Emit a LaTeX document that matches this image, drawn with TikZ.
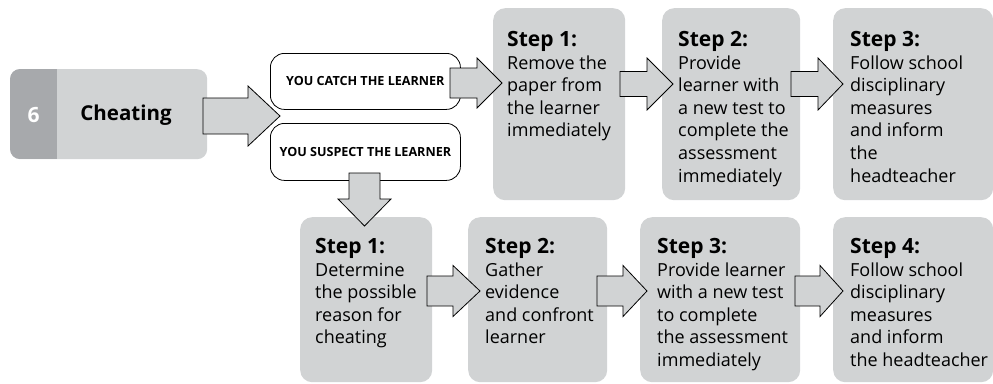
\documentclass[tikz,border=0pt]{standalone}
\usepackage{fontspec}
\setmainfont{Open Sans}
\definecolor{boxgray}{HTML}{D1D3D4}
\definecolor{numgray}{HTML}{A7A9AC}
\newcommand{\rarr}[6]{%
  \draw[blockarrow] (#1,#4-#5) -- (#2,#4-#5) -- (#2,#4-#6) -- (#3,#4) -- (#2,#4+#6) -- (#2,#4+#5) -- (#1,#4+#5) -- cycle;}
\tikzset{
  stepbox/.style={fill=boxgray, rounded corners=12pt, inner sep=0pt, anchor=north west},
  choicebox/.style={draw=black, line width=0.8pt, fill=white, rounded corners=14pt, inner sep=0pt,
     font=\bfseries\fontsize{12.6}{14}\selectfont},
  steptext/.style={anchor=north west, align=left, inner sep=0pt, font=\fontsize{18}{22.6}\selectfont},
  blockarrow/.style={draw=black, line width=0.8pt, fill=boxgray, line join=miter},
}
\newcommand{\steptitle}[1]{{\bfseries\fontsize{21}{24}\selectfont #1}}
\begin{document}
\begin{tikzpicture}[x=1pt,y=-1pt]
\useasboundingbox (0,0) rectangle (993,383);
% Cheating box
\node[stepbox, minimum width=197pt, minimum height=90pt, rounded corners=10pt] (cheat) at (10,69) {};
\begin{scope}
  \clip[rounded corners=10pt] (10,69) rectangle (207,159);
  \fill[numgray] (10,69) rectangle (57,159);
\end{scope}
\node[font=\bfseries\fontsize{21}{24}\selectfont, text=white] (num) at (33.5,115) {6};
\node[font=\bfseries\fontsize{20.5}{24}\selectfont] (cheattxt) at (126,115) {Cheating};
% choice boxes
\node[choicebox, minimum width=190pt, minimum height=56pt, anchor=north west] (catch) at (270,53) {YOU CATCH THE LEARNER};
\node[choicebox, minimum width=190pt, minimum height=57pt, anchor=north west] (suspect) at (270,123) {YOU SUSPECT THE LEARNER};
% top steps
\node[stepbox, minimum width=132pt, minimum height=192pt] (a1) at (493,8) {};
\node[stepbox, minimum width=138pt, minimum height=192pt] (a2) at (662,8) {};
\node[stepbox, minimum width=160pt, minimum height=192pt] (a3) at (833,8) {};
% bottom steps
\node[stepbox, minimum width=132pt, minimum height=165pt] (b1) at (300,217) {};
\node[stepbox, minimum width=139pt, minimum height=165pt] (b2) at (468,217) {};
\node[stepbox, minimum width=160pt, minimum height=165pt] (b3) at (640,217) {};
\node[stepbox, minimum width=160pt, minimum height=165pt] (b4) at (833,217) {};
% texts
\node[steptext] (a1t) at ([xshift=14pt,yshift=-23pt]a1.north west) {\steptitle{Step 1:}\\Remove the\\paper from\\the learner\\immediately};
\node[steptext] (a2t) at ([xshift=16pt,yshift=-23pt]a2.north west) {\steptitle{Step 2:}\\Provide\\learner with\\a new test to\\complete the\\assessment\\immediately};
\node[steptext] (a3t) at ([xshift=17pt,yshift=-23pt]a3.north west) {\steptitle{Step 3:}\\Follow school\\disciplinary\\measures\\and inform\\the\\headteacher};
\node[steptext] (b1t) at ([xshift=15pt,yshift=-21pt]b1.north west) {\steptitle{Step 1:}\\Determine\\the possible\\reason for\\cheating};
\node[steptext] (b2t) at ([xshift=17pt,yshift=-21pt]b2.north west) {\steptitle{Step 2:}\\Gather\\evidence\\and confront\\learner};
\node[steptext] (b3t) at ([xshift=17pt,yshift=-21pt]b3.north west) {\steptitle{Step 3:}\\Provide learner\\with a new test\\to complete\\the assessment\\immediately};
\node[steptext] (b4t) at ([xshift=17pt,yshift=-21pt]b4.north west) {\steptitle{Step 4:}\\Follow school\\disciplinary\\measures\\and inform\\the headteacher};
% arrows
\rarr{203}{248}{280}{116}{18}{30}
\rarr{450}{477}{502}{83}{15}{25}
\rarr{620}{647}{673}{84}{12.5}{26}
\rarr{791}{818}{843}{84}{12.5}{26}
\rarr{427}{453}{480}{291}{15}{25.5}
\rarr{597}{623}{647}{291}{15}{25.5}
\rarr{795}{820}{843}{291}{15}{25.5}
% down arrow
\draw[blockarrow] (349,173) -- (380,173) -- (380,199) -- (391,199) -- (364.5,226) -- (338,199) -- (349,199) -- cycle;
\end{tikzpicture}
\end{document}
